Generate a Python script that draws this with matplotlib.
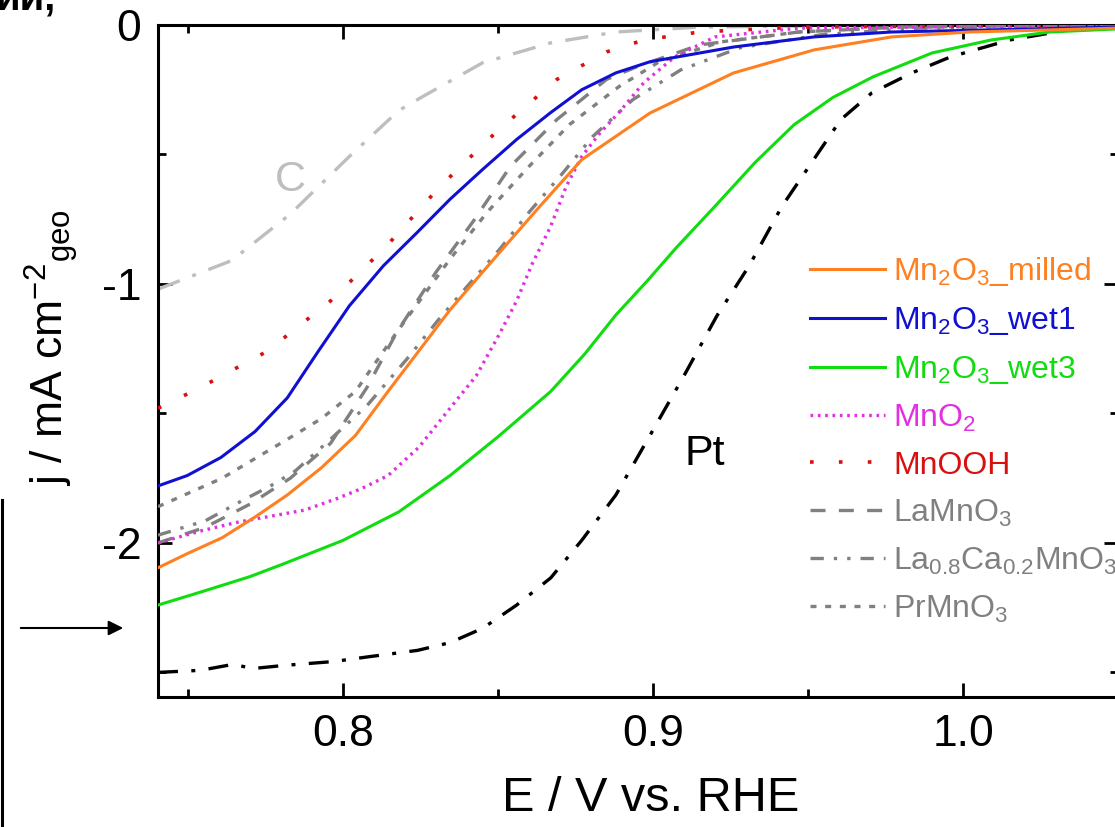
import matplotlib
matplotlib.use("Agg")
import matplotlib.pyplot as plt
from matplotlib.lines import Line2D
from matplotlib.patches import FancyArrowPatch
from matplotlib.ticker import MultipleLocator

plt.rcParams['font.family'] = ['Liberation Sans', 'DejaVu Sans']
plt.rcParams['mathtext.fontset'] = 'custom'
plt.rcParams['mathtext.rm'] = 'Liberation Sans'
plt.rcParams['mathtext.it'] = 'Liberation Sans:italic'
plt.rcParams['mathtext.bf'] = 'Liberation Sans:bold'
plt.rcParams['axes.unicode_minus'] = False

# ---------------- data (E in V vs RHE, j in mA cm^-2) ----------------
E_C = [0.7403, 0.764, 0.783, 0.802, 0.818, 0.824, 0.845, 0.867, 0.888, 0.915, 0.95, 1.05]
j_C = [-1.02, -0.91, -0.73, -0.508, -0.33, -0.288, -0.146, -0.069, -0.027, -0.008, -0.003, 0.0]

E_Pt = [0.7403, 0.754, 0.7645, 0.771, 0.781, 0.797, 0.808, 0.824, 0.8345, 0.845, 0.856,
        0.867, 0.877, 0.888, 0.899, 0.910, 0.9206, 0.931, 0.9416, 0.9606, 0.9706, 0.9835,
        0.996, 1.015, 1.034, 1.05]
j_Pt = [-2.50, -2.492, -2.469, -2.485, -2.473, -2.458, -2.44, -2.415, -2.385, -2.33, -2.24,
        -2.135, -1.99, -1.815, -1.585, -1.354, -1.123, -0.93, -0.70, -0.365, -0.262, -0.185,
        -0.123, -0.058, -0.019, -0.012]

E_milled = [0.7403, 0.750, 0.761, 0.7716, 0.782, 0.793, 0.804, 0.8145, 0.825, 0.8345, 0.8506,
            0.8635, 0.877, 0.899, 0.926, 0.952, 0.977, 1.002, 1.05]
j_milled = [-2.096, -2.04, -1.98, -1.90, -1.815, -1.71, -1.585, -1.415, -1.25, -1.10, -0.877,
            -0.70, -0.52, -0.34, -0.185, -0.096, -0.046, -0.027, -0.012]

E_wet1 = [0.7403, 0.7497, 0.7606, 0.7716, 0.782, 0.792, 0.802, 0.813, 0.824, 0.8345, 0.845,
          0.856, 0.867, 0.877, 0.888, 0.899, 0.926, 0.952, 0.977, 1.05]
j_wet1 = [-1.78, -1.74, -1.67, -1.57, -1.44, -1.26, -1.085, -0.93, -0.80, -0.673, -0.558,
          -0.442, -0.338, -0.25, -0.185, -0.142, -0.085, -0.046, -0.027, -0.008]

E_wet3 = [0.7403, 0.754, 0.770, 0.781, 0.800, 0.818, 0.8345, 0.850, 0.867, 0.878, 0.888,
          0.898, 0.9075, 0.920, 0.933, 0.9455, 0.958, 0.971, 0.990, 1.009, 1.028, 1.05]
j_wet3 = [-2.24, -2.19, -2.13, -2.08, -1.99, -1.88, -1.74, -1.59, -1.415, -1.27, -1.12,
          -0.99, -0.86, -0.70, -0.53, -0.385, -0.28, -0.20, -0.108, -0.058, -0.027, -0.015]

E_MnO2 = [0.7403, 0.754, 0.766, 0.7877, 0.7984, 0.806, 0.8145, 0.8245, 0.8345, 0.843, 0.8506,
          0.856, 0.861, 0.867, 0.872, 0.877, 0.883, 0.889, 0.897, 0.907, 0.920, 0.947, 1.05]
j_MnO2 = [-2.00, -1.954, -1.92, -1.873, -1.827, -1.79, -1.74, -1.63, -1.48, -1.354, -1.19,
          -1.065, -0.923, -0.777, -0.623, -0.508, -0.415, -0.338, -0.223, -0.123, -0.046,
          -0.012, 0.0]

E_MnOOH = [0.7403, 0.754, 0.7755, 0.796, 0.814, 0.831, 0.8497, 0.869, 0.885, 0.897, 0.915,
           0.947, 1.05]
j_MnOOH = [-1.48, -1.40, -1.26, -1.065, -0.854, -0.627, -0.41, -0.21, -0.104, -0.058, -0.027,
           -0.008, 0.0]

E_LaMnO3 = [0.7403, 0.7555, 0.770, 0.783, 0.796, 0.8077, 0.8174, 0.830, 0.842, 0.854, 0.869,
            0.885, 0.895, 0.915, 0.947, 0.980, 1.05]
j_LaMnO3 = [-2.00, -1.94, -1.85, -1.75, -1.615, -1.40, -1.185, -0.954, -0.758, -0.546, -0.365,
            -0.21, -0.16, -0.077, -0.027, -0.008, 0.0]

E_LaCa = [0.7403, 0.7555, 0.766, 0.777, 0.7845, 0.795, 0.8077, 0.8206, 0.831, 0.840, 0.8506,
          0.860, 0.871, 0.8806, 0.8935, 0.909, 0.928, 0.954, 0.986, 1.05]
j_LaCa = [-1.97, -1.915, -1.846, -1.777, -1.723, -1.61, -1.47, -1.29, -1.135, -1.01, -0.865,
          -0.723, -0.57, -0.43, -0.288, -0.173, -0.088, -0.038, -0.012, 0.0]

E_Pr = [0.7403, 0.761, 0.782, 0.793, 0.804, 0.8174, 0.8345, 0.8465, 0.860, 0.873, 0.889,
        0.902, 0.922, 0.947, 0.980, 1.05]
j_Pr = [-1.86, -1.75, -1.60, -1.52, -1.415, -1.185, -0.904, -0.723, -0.546, -0.385, -0.238,
        -0.142, -0.065, -0.027, -0.008, 0.0]

x_ticks = [0.8, 0.9, 1.0]
x_tick_labels = ['0.8', '0.9', '1.0']
y_ticks = [0, -1, -2]
y_tick_labels = ['0', '-1', '-2']

# ---------------- figure ----------------
W, H = 1115, 827
fig = plt.figure(figsize=(W / 100, H / 100), dpi=100)
ax = fig.add_axes([158 / W, (H - 697) / H, 960 / W, 672 / H])

gray = '#808080'
lw = 2.2

ax.plot(E_C, j_C, color='#BEBEBE', lw=2.4, ls=(0, (7, 4, 1.2, 4)))
ax.plot(E_Pt, j_Pt, color='black', lw=2.4, ls=(0, (6, 4, 1.2, 4)))
ax.plot(E_Pr, j_Pr, color=gray, lw=2.4, ls=(0, (1.8, 2.6)), label='PrMnO$_3$', zorder=3)
ax.plot(E_LaCa, j_LaCa, color=gray, lw=2.4, ls=(0, (4, 3, 1, 3, 1, 3)),
        label='La$_{0.8}$Ca$_{0.2}$MnO$_3$', zorder=3)
ax.plot(E_LaMnO3, j_LaMnO3, color=gray, lw=2.4, ls=(0, (4.5, 4)), label='LaMnO$_3$', zorder=3)
ax.plot(E_MnOOH, j_MnOOH, color='#D81010', lw=2.6, ls=(0, (1, 7)), label='MnOOH', zorder=3)
ax.plot(E_MnO2, j_MnO2, color='#E030E0', lw=2.4, ls=(0, (0.8, 1.4)), label='MnO$_2$', zorder=3)
ax.plot(E_wet3, j_wet3, color='#10DD10', lw=lw, label='Mn$_2$O$_3$_wet3', zorder=4)
ax.plot(E_wet1, j_wet1, color='#1010D0', lw=lw, label='Mn$_2$O$_3$_wet1', zorder=4)
ax.plot(E_milled, j_milled, color='#FF8020', lw=lw, label='Mn$_2$O$_3$_milled', zorder=4)

ax.set_xlim(0.7403, 1.05)
ax.set_ylim(-2.595, 0.0)

ax.set_xticks(x_ticks)
ax.set_xticklabels(x_tick_labels)
ax.set_yticks(y_ticks)
ax.set_yticklabels(y_tick_labels)
ax.xaxis.set_minor_locator(MultipleLocator(0.05))
ax.yaxis.set_minor_locator(MultipleLocator(0.5))
ax.tick_params(which='both', direction='in', top=True, right=True, width=2.0, colors='black')
ax.tick_params(which='major', length=10, labelsize=32, pad=12)
ax.tick_params(which='minor', length=6)
for s in ax.spines.values():
    s.set_linewidth(2.2)

ax.set_xlabel('E / V vs. RHE', fontsize=35)
ax.set_ylabel(r'j / mA cm$^{-2}{}_{\mathrm{geo}}$', fontsize=32)
ax.xaxis.set_label_coords(0.513, -0.118)
ax.yaxis.set_label_coords(-0.081, 0.52)

ax.text(0.783, -0.597, 'C', fontsize=31, color='#BEBEBE', ha='center', va='center')
ax.text(0.9168, -1.655, 'Pt', fontsize=31, color='black', ha='center', va='center')

handles, labels = ax.get_legend_handles_labels()
order = list(range(len(handles)))[::-1]
leg = ax.legend([handles[i] for i in order], [labels[i] for i in order],
                loc='upper left', bbox_to_anchor=(0.679, 0.658), frameon=False,
                fontsize=23, handlelength=2.35, handletextpad=0.25, labelspacing=0.53,
                borderpad=0, borderaxespad=0, labelcolor='linecolor')

# ---------------- stray elements from the cropped page ----------------
fig.text(-0.004, 1 - 10 / H, 'ии,', fontsize=29, fontweight='bold', color='black',
         ha='left', va='baseline')
fig.add_artist(Line2D([2 / W, 2 / W], [0, 1 - 500 / H], transform=fig.transFigure,
                      color='black', lw=2.2))
fig.add_artist(FancyArrowPatch((18 / W, 1 - 628 / H), (126 / W, 1 - 628 / H),
                               transform=fig.transFigure, arrowstyle='-|>',
                               mutation_scale=22, lw=1.5, color='black'))

fig.savefig('out.png', dpi=100)
